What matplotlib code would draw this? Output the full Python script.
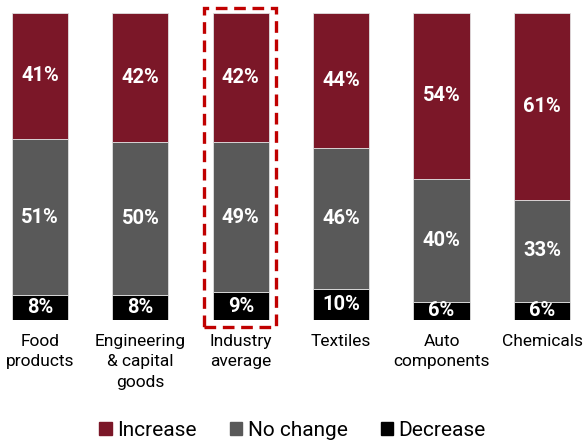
import matplotlib.pyplot as plt
from matplotlib.patches import Patch, Rectangle

plt.rcParams['font.family'] = ['Roboto', 'DejaVu Sans']

categories = ['Food\nproducts', 'Engineering\n& capital\ngoods', 'Industry\naverage',
              'Textiles', 'Auto\ncomponents', 'Chemicals']
decrease = [8, 8, 9, 10, 6, 6]
no_change = [51, 50, 49, 46, 40, 33]
increase = [41, 42, 42, 44, 54, 61]

c_inc = '#7b1728'
c_nc = '#595959'
c_dec = '#000000'

fig = plt.figure(figsize=(5.85, 4.43), dpi=100)
ax = fig.add_axes([0, 0.2777, 1, 0.693])

x = list(range(len(categories)))
w = 0.56
bottoms2 = [d + n for d, n in zip(decrease, no_change)]
ax.bar(x, decrease, w, color=c_dec, edgecolor='#e0e0e0', linewidth=0.6)
ax.bar(x, no_change, w, bottom=decrease, color=c_nc, edgecolor='#e0e0e0', linewidth=0.6)
ax.bar(x, increase, w, bottom=bottoms2, color=c_inc, edgecolor='#e0e0e0', linewidth=0.6)

lab = dict(ha='center', va='center', color='white', fontsize=14.5, fontweight='bold')
for i in x:
    ax.text(i, decrease[i] / 2, f'{decrease[i]}%', **lab)
    ax.text(i, decrease[i] + no_change[i] / 2, f'{no_change[i]}%', **lab)
    ax.text(i, bottoms2[i] + increase[i] / 2, f'{increase[i]}%', **lab)

# highlight box around industry average
ax.add_patch(Rectangle((1.633, -2.3), 0.718, 104.0, fill=False, edgecolor='#c00000',
                       linewidth=2.4, linestyle=(0, (3.5, 2)), clip_on=False))

ax.set_xlim(-0.398, 5.428)
ax.set_ylim(0, 100)
ax.set_xticks(x)
ax.set_xticklabels(categories, fontsize=12.5, linespacing=1.45)
ax.tick_params(axis='x', length=0, pad=10)
ax.set_yticks([])
for s in ax.spines.values():
    s.set_visible(False)

handles = [Patch(color=c_inc, label='Increase'),
           Patch(color=c_nc, label='No change'),
           Patch(color=c_dec, label='Decrease')]
fig.legend(handles=handles, loc='lower center', bbox_to_anchor=(0.5, -0.035), ncol=3,
           frameon=False, fontsize=15, handlelength=0.6, handleheight=0.6,
           handletextpad=0.25, columnspacing=1.6)

fig.savefig('out.png', dpi=100)
